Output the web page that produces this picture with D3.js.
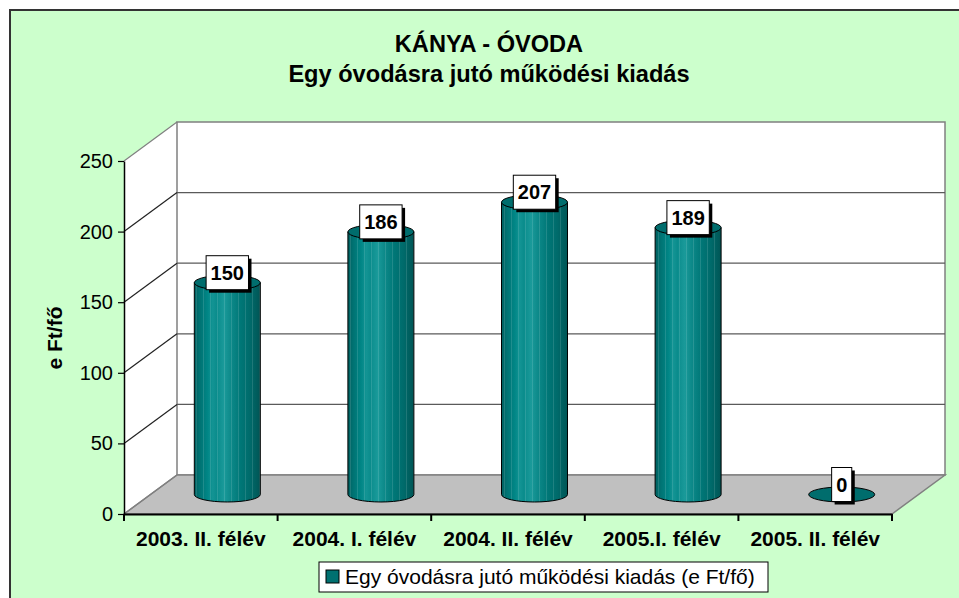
<!DOCTYPE html>
<html>
<head>
<meta charset="utf-8">
<script src="https://cdn.jsdelivr.net/npm/d3@7"></script>
<style>
    body { margin: 0; background: #fff; }
    svg { display: block; font-family: "Liberation Sans", Arial, sans-serif; }
</style>
</head>
<body>
<svg id="chart" width="959" height="598"></svg>
<script>
// chart data
const categories = ["2003. II. félév", "2004. I. félév", "2004. II. félév", "2005.I. félév", "2005. II. félév"];
const values = [150, 186, 207, 189, 0];
const yTicks = [0, 50, 100, 150, 200, 250];
const titleLines = ["KÁNYA - ÓVODA", "Egy óvodásra jutó működési kiadás"];
const yTitle = "e Ft/fő";
const seriesName = "Egy óvodásra jutó működési kiadás (e Ft/fő)";

const svg = d3.select("#chart");

// 3d depth offset of the back wall
const depthX = 53, depthY = -39;

const x = d3.scaleBand().domain(categories).range([124, 892]);
const y = d3.scaleLinear().domain([0, 250]).range([514, 161]);

//gradient for the cylinder body
const defs = svg.append("defs");
const grad = defs.append("linearGradient").attr("id", "cyl")
    .attr("x1", "0%").attr("x2", "100%").attr("y1", "0%").attr("y2", "0%");
[
    [0, "#005f5f"], [0.08, "#007272"], [0.2, "#008686"], [0.28, "#139494"],
    [0.34, "#0a8c8c"], [0.45, "#1a9a9a"], [0.55, "#0d8a8a"], [0.7, "#007777"],
    [0.85, "#006a6a"], [1, "#005555"]
].forEach(s => grad.append("stop").attr("offset", s[0]).attr("stop-color", s[1]));

// stripes on the body
const stripes = defs.append("pattern").attr("id", "stripes")
    .attr("patternUnits", "userSpaceOnUse").attr("width", 7).attr("height", 10);
stripes.append("rect").attr("x", 0).attr("width", 1).attr("height", 10)
    .attr("fill", "#ffffff").attr("opacity", 0.12);

// background frame
svg.append("rect").attr("x", 10).attr("y", 10).attr("width", 960).attr("height", 600)
    .attr("fill", "#ccffcc").attr("stroke", "#333").attr("stroke-width", 2);

// title
svg.append("text").attr("x", 489).attr("y", 0).attr("text-anchor", "middle")
    .attr("font-weight", "bold").attr("font-size", 23.6)
    .selectAll("tspan").data(titleLines).join("tspan")
    .attr("x", 489).attr("y", (d, i) => 52 + i * 30).text(d => d);

const x0 = x.range()[0], x1 = x.range()[1];
const yb = y(0), yt = y(250);

// side wall
svg.append("path")
    .attr("d", `M${x0},${yb} L${x0},${yt} L${x0 + depthX},${yt + depthY} L${x0 + depthX},${yb + depthY} Z`)
    .attr("fill", "#fff").attr("stroke", "none");
// back wall
svg.append("rect").attr("x", x0 + depthX).attr("y", yt + depthY)
    .attr("width", x1 - x0).attr("height", yb - yt)
    .attr("fill", "#fff").attr("stroke", "#808080").attr("stroke-width", 1.5);
// floor
svg.append("path")
    .attr("d", `M${x0},${yb} L${x1},${yb} L${x1 + depthX},${yb + depthY} L${x0 + depthX},${yb + depthY} Z`)
    .attr("fill", "#c0c0c0").attr("stroke", "#808080").attr("stroke-width", 1.5);

// gridlines
const grid = svg.append("g");
grid.selectAll("line.back").data(yTicks.filter(v => v > 0 && v < 250)).join("line")
    .attr("class", "back")
    .attr("x1", x0 + depthX).attr("x2", x1 + depthX)
    .attr("y1", d => y(d) + depthY).attr("y2", d => y(d) + depthY)
    .attr("stroke", "#5a5a5a").attr("stroke-width", 1.2);
grid.selectAll("line.side").data(yTicks).join("line")
    .attr("class", "side")
    .attr("x1", x0).attr("x2", x0 + depthX)
    .attr("y1", d => y(d)).attr("y2", d => y(d) + depthY)
    .attr("stroke", d => (d === 0 || d === 250) ? "#808080" : "#222")
    .attr("stroke-width", 1.2);

// cylinders
const r = 33, ry = 7.5;
const cyl = svg.append("g").selectAll("g").data(values).join("g");
const cx = (d, i) => x(categories[i]) + x.bandwidth() / 2 + depthX / 2;
const base = y(0) + depthY / 2;
const topY = d => y(d) + depthY / 2;

cyl.each(function (d, i) {
    const g = d3.select(this);
    const c = cx(d, i), t = topY(d);
    if (d > 0) {
        const body = `M${c - r},${t} L${c - r},${base} A${r},${ry} 0 0 0 ${c + r},${base} L${c + r},${t} Z`;
        g.append("path").attr("d", body).attr("fill", "url(#cyl)");
        g.append("path").attr("d", body).attr("fill", "url(#stripes)")
            .attr("stroke", "#000").attr("stroke-width", 1);
    }
    g.append("ellipse").attr("cx", c).attr("cy", t).attr("rx", r).attr("ry", ry)
        .attr("fill", "#006d6d").attr("stroke", "#000").attr("stroke-width", 1);
});

// axes
const yAxis = svg.append("g").attr("transform", `translate(${x0},0)`)
    .call(d3.axisLeft(y).tickValues(yTicks).tickSize(6).tickSizeOuter(0));
yAxis.select(".domain").attr("stroke", "#000").attr("stroke-width", 1.5);
yAxis.selectAll("line").attr("stroke", "#000").attr("stroke-width", 1.2);
yAxis.selectAll("text").attr("font-size", 20).attr("fill", "#000")
    .attr("font-family", "Liberation Sans, Arial, sans-serif").attr("dx", -2);

const xAxis = svg.append("g").attr("transform", `translate(0,${yb})`)
    .call(d3.axisBottom(x).tickSize(0).tickSizeOuter(0));
xAxis.select(".domain").attr("stroke", "#000").attr("stroke-width", 2);
xAxis.selectAll("text").attr("font-size", 21).attr("font-weight", "bold").attr("fill", "#000")
    .attr("font-family", "Liberation Sans, Arial, sans-serif").attr("dy", "1.4em");
// category boundary ticks
svg.append("g").selectAll("line").data(d3.range(categories.length + 1)).join("line")
    .attr("x1", i => x0 + i * x.step()).attr("x2", i => x0 + i * x.step())
    .attr("y1", yb).attr("y2", yb + 7)
    .attr("stroke", "#000").attr("stroke-width", 2);

// y title
svg.append("text").attr("transform", "translate(62,338) rotate(-90)")
    .attr("text-anchor", "middle").attr("font-weight", "bold").attr("font-size", 21)
    .text(yTitle);

// data labels
const labels = svg.append("g").selectAll("g").data(values).join("g")
    .attr("transform", (d, i) => `translate(${cx(d, i)},${topY(d) - 10})`);
labels.each(function (d) {
    const g = d3.select(this);
    const txt = g.append("text").attr("text-anchor", "middle").attr("dy", "0.36em")
        .attr("font-weight", "bold").attr("font-size", 20).text(d);
    const w = txt.node().getComputedTextLength() + 9, h = 34;
    g.insert("rect", "text").attr("x", -w / 2 + 3).attr("y", -h / 2 + 3)
        .attr("width", w).attr("height", h).attr("fill", "#000");
    g.insert("rect", "text").attr("x", -w / 2).attr("y", -h / 2)
        .attr("width", w).attr("height", h).attr("fill", "#fff")
        .attr("stroke", "#000").attr("stroke-width", 1);
});

// legend
const legend = svg.append("g").attr("transform", "translate(319,562)");
legend.append("rect").attr("width", 449).attr("height", 30)
    .attr("fill", "#fff").attr("stroke", "#000").attr("stroke-width", 1);
legend.append("rect").attr("x", 7).attr("y", 8).attr("width", 13).attr("height", 13)
    .attr("fill", "#007070").attr("stroke", "#000").attr("stroke-width", 1);
legend.append("text").attr("x", 26).attr("y", 22).attr("font-size", 21).text(seriesName);
</script>
</body>
</html>
